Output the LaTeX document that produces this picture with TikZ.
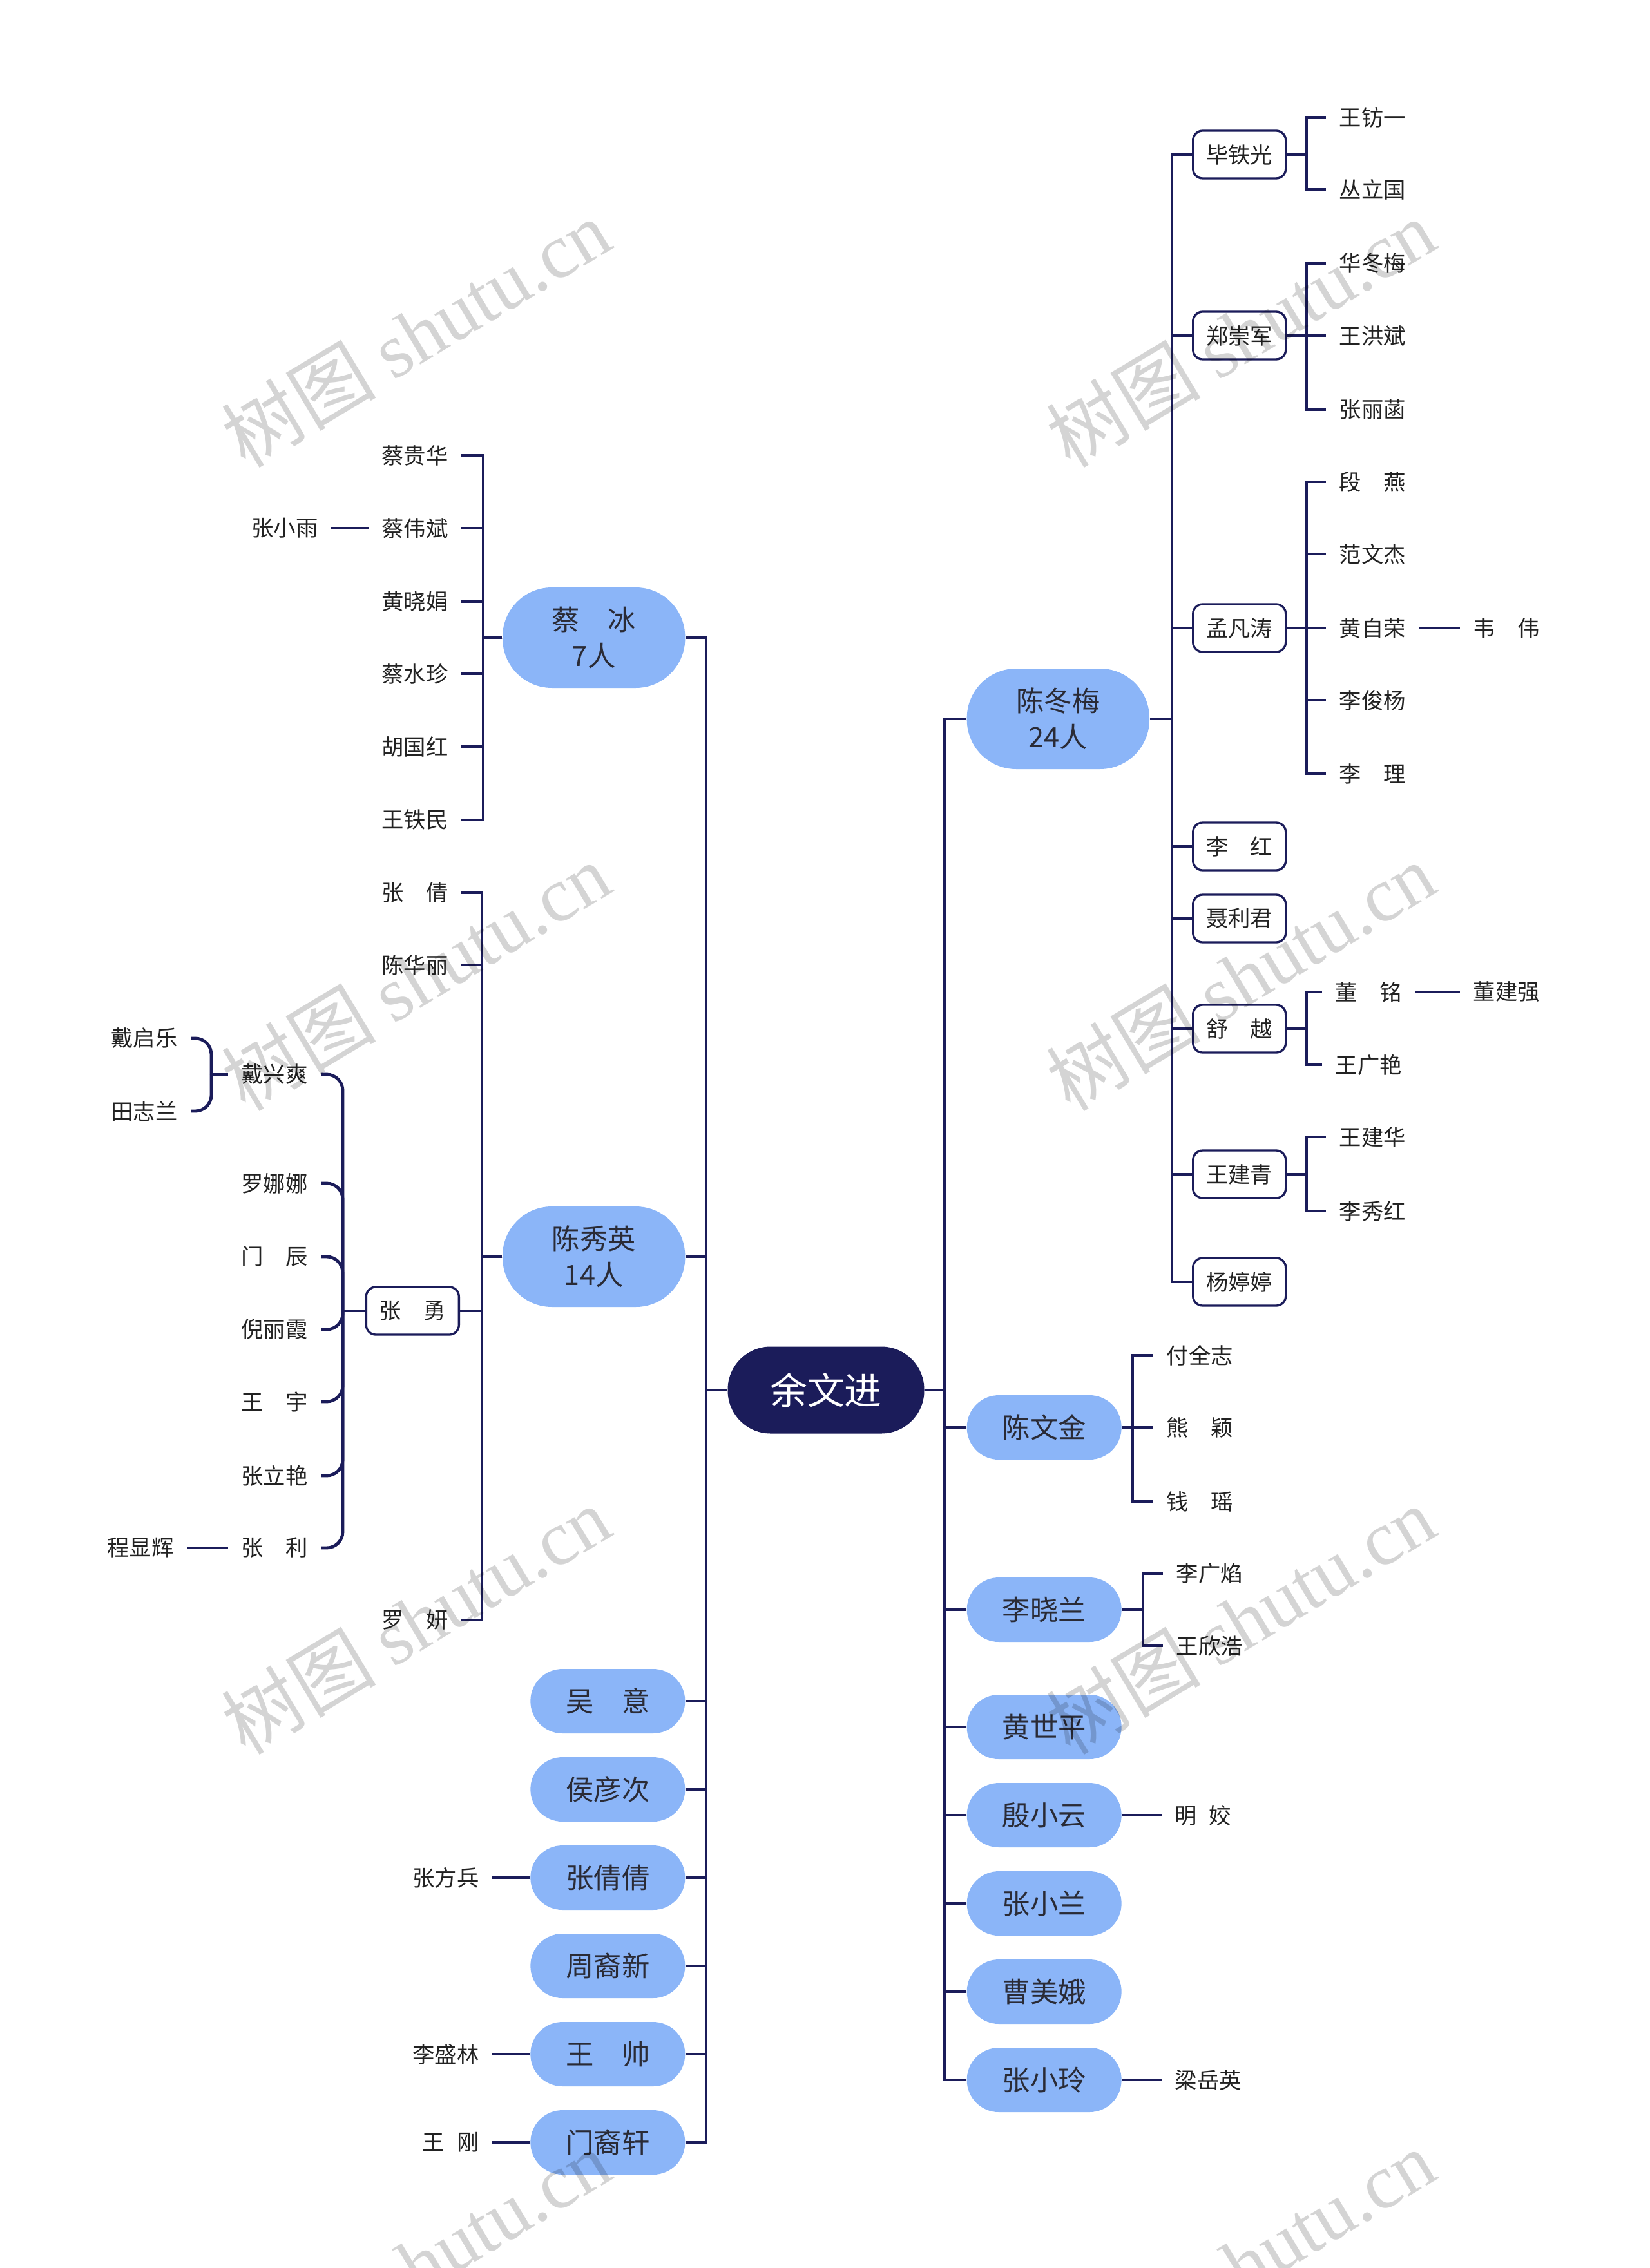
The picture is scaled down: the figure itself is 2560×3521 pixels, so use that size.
\documentclass[tikz,border=0pt]{standalone}
\usepackage{fontspec}
\setmainfont{Noto Sans CJK SC}
\newfontfamily\wmlatin{Liberation Serif}
\definecolor{navy}{HTML}{1B1C5A}
\definecolor{pill}{HTML}{8BB5F8}
\definecolor{ink}{HTML}{2A2B36}
\definecolor{leafink}{HTML}{222222}
\tikzset{
  root/.style={fill=navy, text=white, rounded corners=20pt, minimum width=91.5pt, minimum height=40.5pt, inner sep=0pt, font=\fontsize{17.3}{20}\selectfont},
  big/.style={fill=pill, text=ink, rounded corners=23pt, minimum width=85pt, minimum height=46.8pt, inner sep=0pt, align=center, font=\fontsize{13}{16.8}\selectfont},
  small/.style={fill=pill, text=ink, rounded corners=14.9pt, minimum width=72pt, minimum height=30pt, inner sep=0pt, font=\fontsize{13}{15}\selectfont},
  box/.style={draw=navy, line width=1pt, fill=white, text=leafink, rounded corners=4.5pt, minimum width=43.2pt, minimum height=22.2pt, inner xsep=6pt, inner ysep=0pt, font=\fontsize{10.3}{12}\selectfont},
  leaf/.style={text=leafink, inner xsep=6pt, inner ysep=1pt, font=\fontsize{10.3}{12}\selectfont},
  rleaf/.style={leaf, anchor=west},
  lleaf/.style={leaf, anchor=east},
  link/.style={draw=navy, line width=1.45pt},
  curvy/.style={link, rounded corners=7.5pt},
  wm/.style={text=black, text opacity=0.17, rotate=31, inner sep=0pt, font=\fontsize{36}{40}\selectfont}
}
\begin{document}
\begin{tikzpicture}[x=0.3pt,y=-0.3pt]
\useasboundingbox (0,0) rectangle (2560,3521);

% ---------- root ----------
\node[root] (root) at (1282,2158) {余文进};
\coordinate (RT) at (1466,2158);
\coordinate (LT) at (1096,2158);

% ---------- right level 1 ----------
\node[big, anchor=west] (r1) at (1500,1116) {陈冬梅\\24人};
\node[small, anchor=west] (r2) at (1500,2216) {陈文金};
\node[small, anchor=west] (r3) at (1500,2499) {李晓兰};
\node[small, anchor=west] (r4) at (1500,2681) {黄世平};
\node[small, anchor=west] (r5) at (1500,2818) {殷小云};
\node[small, anchor=west] (r6) at (1500,2955) {张小兰};
\node[small, anchor=west] (r7) at (1500,3092) {曹美娥};
\node[small, anchor=west] (r8) at (1500,3229) {张小玲};
\foreach \n in {r1,r2,r3,r4,r5,r6,r7,r8}
  \draw[link] (root.east) -- (RT) |- (\n.west);

% ---------- left level 1 ----------
\node[big, anchor=east] (l1) at (1064,990) {蔡　冰\\7人};
\node[big, anchor=east] (l2) at (1064,1951) {陈秀英\\14人};
\node[small, anchor=east] (l3) at (1064,2641) {吴　意};
\node[small, anchor=east] (l4) at (1064,2778) {侯彦次};
\node[small, anchor=east] (l5) at (1064,2915) {张倩倩};
\node[small, anchor=east] (l6) at (1064,3052) {周裔新};
\node[small, anchor=east] (l7) at (1064,3189) {王　帅};
\node[small, anchor=east] (l8) at (1064,3326) {门裔轩};
\foreach \n in {l1,l2,l3,l4,l5,l6,l7,l8}
  \draw[link] (root.west) -- (LT) |- (\n.east);

% ---------- 陈冬梅 subtree ----------
\coordinate (r1s) at (1819,1116);
\node[box, anchor=west] (b1) at (1850,240) {毕铁光};
\node[box, anchor=west] (b2) at (1850,521) {郑崇军};
\node[box, anchor=west] (b3) at (1850,975) {孟凡涛};
\node[box, anchor=west] (b4) at (1850,1314) {李　红};
\node[box, anchor=west] (b5) at (1850,1426) {聂利君};
\node[box, anchor=west] (b6) at (1850,1597) {舒　越};
\node[box, anchor=west] (b7) at (1850,1823) {王建青};
\node[box, anchor=west] (b8) at (1850,1990) {杨婷婷};
\foreach \n in {b1,b2,b3,b4,b5,b6,b7,b8}
  \draw[link] (r1.east) -- (r1s) |- (\n.west);

\coordinate (b1s) at (2028,240);
\node[rleaf] (b1a) at (2058,182) {王钫一};
\node[rleaf] (b1b) at (2058,294) {丛立国};
\foreach \n in {b1a,b1b} \draw[link] (b1.east) -- (b1s) |- (\n.west);

\coordinate (b2s) at (2028,521);
\node[rleaf] (b2a) at (2058,409) {华冬梅};
\node[rleaf] (b2b) at (2058,521) {王洪斌};
\node[rleaf] (b2c) at (2058,636) {张丽菡};
\foreach \n in {b2a,b2b,b2c} \draw[link] (b2.east) -- (b2s) |- (\n.west);

\coordinate (b3s) at (2028,975);
\node[rleaf] (b3a) at (2058,748) {段　燕};
\node[rleaf] (b3b) at (2058,860) {范文杰};
\node[rleaf] (b3c) at (2058,975) {黄自荣};
\node[rleaf] (b3d) at (2058,1087) {李俊杨};
\node[rleaf] (b3e) at (2058,1201) {李　理};
\foreach \n in {b3a,b3b,b3c,b3d,b3e} \draw[link] (b3.east) -- (b3s) |- (\n.west);
\node[rleaf] (b3c1) at (2266,975) {韦　伟};
\draw[link] (b3c.east) -- (b3c1.west);

\coordinate (b6s) at (2028,1597);
\node[rleaf] (b6a) at (2052,1540) {董　铭};
\node[rleaf] (b6b) at (2052,1653) {王广艳};
\foreach \n in {b6a,b6b} \draw[link] (b6.east) -- (b6s) |- (\n.west);
\node[rleaf] (b6a1) at (2266,1540) {董建强};
\draw[link] (b6a.east) -- (b6a1.west);

\coordinate (b7s) at (2028,1823);
\node[rleaf] (b7a) at (2058,1765) {王建华};
\node[rleaf] (b7b) at (2058,1880) {李秀红};
\foreach \n in {b7a,b7b} \draw[link] (b7.east) -- (b7s) |- (\n.west);

% ---------- other right subtrees ----------
\coordinate (r2s) at (1758,2216);
\node[rleaf] (r2a) at (1790,2104) {付全志};
\node[rleaf] (r2b) at (1790,2216) {熊　颖};
\node[rleaf] (r2c) at (1790,2331) {钱　瑶};
\foreach \n in {r2a,r2b,r2c} \draw[link] (r2.east) -- (r2s) |- (\n.west);

\coordinate (r3s) at (1774,2499);
\node[rleaf] (r3a) at (1805,2443) {李广焰};
\node[rleaf] (r3b) at (1805,2555) {王欣浩};
\foreach \n in {r3a,r3b} \draw[link] (r3.east) -- (r3s) |- (\n.west);

\node[rleaf] (r5a) at (1803,2818) {明\hspace{0.55em}姣};
\draw[link] (r5.east) -- (r5a.west);
\node[rleaf] (r8a) at (1803,3229) {梁岳英};
\draw[link] (r8.east) -- (r8a.west);

% ---------- 蔡冰 subtree ----------
\coordinate (l1s) at (750,990);
\node[lleaf] (l1a) at (716,707) {蔡贵华};
\node[lleaf] (l1b) at (716,820) {蔡伟斌};
\node[lleaf] (l1c) at (716,934) {黄晓娟};
\node[lleaf] (l1d) at (716,1046) {蔡水珍};
\node[lleaf] (l1e) at (716,1159) {胡国红};
\node[lleaf] (l1f) at (716,1273) {王铁民};
\foreach \n in {l1a,l1b,l1c,l1d,l1e,l1f} \draw[link] (l1.west) -- (l1s) |- (\n.east);
\node[lleaf] (l1b1) at (514,820) {张小雨};
\draw[link] (l1b1.east) -- (l1b.west);

% ---------- 陈秀英 subtree ----------
\coordinate (l2s) at (748,1951);
\node[lleaf] (l2a) at (716,1386) {张　倩};
\node[lleaf] (l2b) at (716,1498) {陈华丽};
\node[box, anchor=east] (zy) at (714,2035) {张　勇};
\node[lleaf] (l2d) at (716,2515) {罗　妍};
\foreach \n in {l2a,l2b,zy,l2d} \draw[link] (l2.west) -- (l2s) |- (\n.east);

\coordinate (zys) at (532,2035);
\draw[link] (zy.west) -- (zys);
\node[lleaf] (z1) at (498,1668) {戴兴爽};
\node[lleaf] (z2) at (498,1837) {罗娜娜};
\node[lleaf] (z3) at (498,1951) {门　辰};
\node[lleaf] (z4) at (498,2064) {倪丽霞};
\node[lleaf] (z5) at (498,2176) {王　宇};
\node[lleaf] (z6) at (498,2291) {张立艳};
\node[lleaf] (z7) at (498,2403) {张　利};
\foreach \n in {z1,z2,z3,z4,z5,z6,z7} \draw[curvy] (\n.east) -| (zys);

\coordinate (dxs) at (328,1668);
\node[lleaf] (q1) at (296,1612) {戴启乐};
\node[lleaf] (q2) at (296,1725) {田志兰};
\foreach \n in {q1,q2} \draw[curvy] (\n.east) -| (dxs);
\draw[link] (dxs) -- (z1.west);

\node[lleaf] (z7a) at (290,2403) {程显辉};
\draw[link] (z7a.east) -- (z7.west);

% ---------- bottom left leaves ----------
\node[lleaf] (l5a) at (764,2915) {张方兵};
\draw[link] (l5a.east) -- (l5.west);
\node[lleaf] (l7a) at (764,3189) {李盛林};
\draw[link] (l7a.east) -- (l7.west);
\node[lleaf] (l8a) at (764,3326) {王\hspace{0.55em}刚};
\draw[link] (l8a.east) -- (l8.west);

% ---------- watermarks ----------
\foreach \wx/\wy [count=\i] in {645/517, 1925/517, 645/1516, 1925/1516, 645/2515, 1925/2515, 645/3514, 1925/3514}
  \node[wm] (wm\i) at (\wx,\wy) {树图 {\wmlatin shutu.cn}};
\end{tikzpicture}
\end{document}
